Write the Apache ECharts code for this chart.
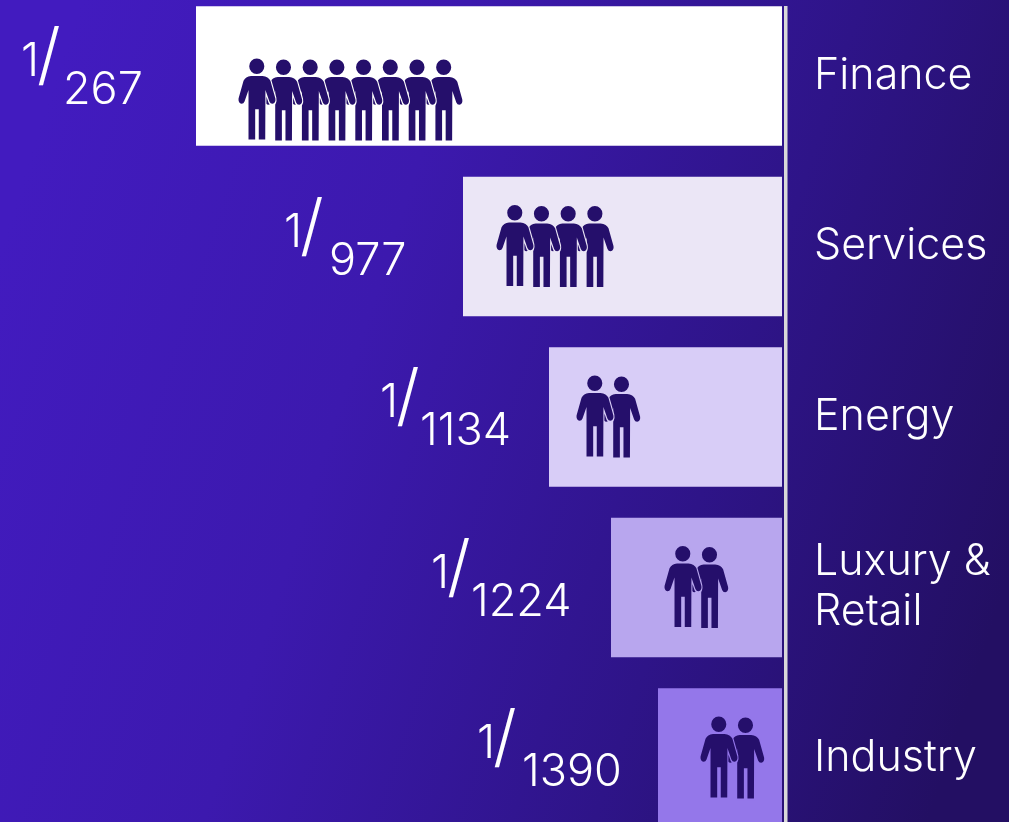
<!DOCTYPE html>
<html><head><meta charset="utf-8">
<style>html,body{margin:0;padding:0;background:#2e1488}#c{width:1009px;height:822px}</style>
<script src="https://cdn.jsdelivr.net/npm/echarts@6/dist/echarts.min.js"></script>
</head><body><div id="c"></div>
<script>
const categories = ['Finance','Services','Energy','Luxury & Retail','Industry'];
const barValues = [586,319,233,171,124];
const numerators = ['1','1','1','1','1'];
const denominators = ['267','977','1134','1224','1390'];
const peopleCounts = [8,4,2,2,2];

// layout (pixels / axis units), kept apart from the data
const barColors = ['#ffffff','#ebe6f6','#d8cdf7','#b8a6ee','#9477ea'];
const personInset = [61,52,46,72,61];
const personDrop = [24,0,0,0,0];
const personStep = 26.7;
const numLeft = [175,179,169,180,181];
const denLeft = [133,134,129,140,136];
const FONT = 'Inter';
const PERSON = 'path://M25.9 7.6A7.6 7.6 0 1 1 10.7 7.6A7.6 7.6 0 1 1 25.9 7.6Z' +
 'M12.5 17.2L24 17.2Q30 17.7 32 22L37 39.5Q37.6 43 35 44.5Q32.2 45.2 31 42.5L27 31L26.8 80L20.3 80L20.3 50L16.7 50L16.7 80L10 80L10 31L6 42.5Q4.8 45.2 2 44.5Q-0.4 43 0 39.5L5 22Q7 17.7 12.5 17.2Z';

const people = [];
categories.forEach((c,i)=>{
  for(let j=peopleCounts[i]-1;j>=0;j--){
    const value=[barValues[i]-personInset[i]-j*personStep,i];
    const symbolOffset=[0,personDrop[i]-(j===0?1:0)];
    people.push({value,symbolOffset,itemStyle:{color:barColors[i],borderColor:barColors[i],borderWidth:3}});
    people.push({value,symbolOffset,itemStyle:{color:'#250f6b',borderWidth:0}});
  }
});

const chart = echarts.init(document.getElementById('c'),null,{renderer:'canvas'});
chart.setOption({
  animation:false,
  backgroundColor:{type:'linear',x:0,y:0.3,x2:1,y2:0.7,colorStops:[
    {offset:0,color:'#421bbf'},{offset:0.35,color:'#3c19ae'},{offset:0.7,color:'#2e1488'},{offset:1,color:'#230f63'}]},
  grid:{left:196,width:586,top:-9.25,height:852.5,outerBoundsMode:'none'},
  xAxis:{type:'value',inverse:true,min:0,max:586,show:false},
  yAxis:{type:'category',data:categories,inverse:true,position:'right',
    axisLine:{show:false},axisTick:{show:false},
    axisLabel:{color:'#fff',fontFamily:FONT,fontWeight:300,fontSize:43,lineHeight:50,align:'left',margin:32,width:190,overflow:'break',padding:[7,0,0,0]}},
  graphic:[{type:'rect',shape:{x:784,y:6,width:3.5,height:816},style:{fill:'#d9d9d9'},z:10,silent:true}],
  series:[
    {type:'bar',data:barValues.map((v,i)=>({value:v,itemStyle:{color:barColors[i]}})),barWidth:139.5,silent:true},
    {type:'scatter',data:people,symbol:PERSON,symbolSize:[37,81],symbolKeepAspect:false,z:5,silent:true,
      itemStyle:{opacity:1}},
    {type:'custom',coordinateSystem:'cartesian2d',silent:true,z:6,clip:false,
      data:barValues.map((v,i)=>[v,i]),
      renderItem(params,api){
        const i=params.dataIndex;
        const p=api.coord([api.value(0),i]);
        const t=(text,x,y,size)=>({type:'text',style:{text,x,y,fill:'#fff',font:`300 ${size}px ${FONT}`,textAlign:'left',textVerticalAlign:'middle'}});
        return {type:'group',children:[
          t(numerators[i],p[0]-numLeft[i],p[1]-13.5,46),
          t('/',p[0]-numLeft[i]+16,p[1]-18,68),
          t(denominators[i],p[0]-denLeft[i],p[1]+14.5,45)
        ]};
      }}
  ]
});
</script></body></html>
